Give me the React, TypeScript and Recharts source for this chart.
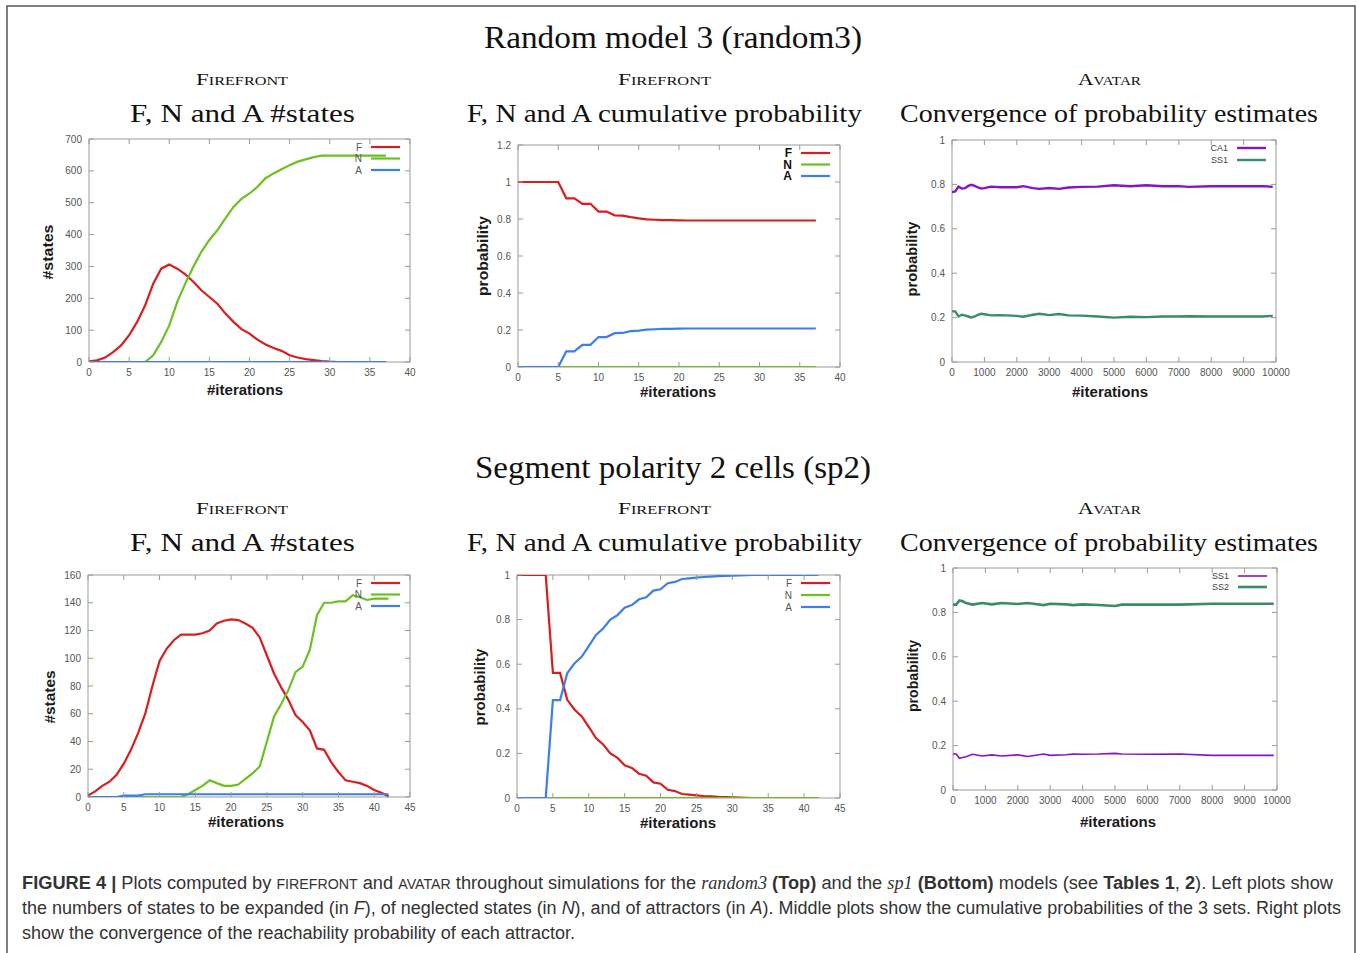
import React from 'react';
import { LineChart, Line, XAxis, YAxis, Legend, ReferenceArea } from 'recharts';

// ---------- Panel 1: random3, FIREFRONT #states ----------
const p1Iter = [0,1,2,3,4,5,6,7,8,9,10,11,12,13,14,15,16,17,18,19,20,21,22,23,24,25,26,27,28,29,30,31,32,33,34,35,36,37];
const p1F = [2,5,14,31,52,84,126,178,246,293,306,293,275,252,225,204,183,152,126,103,89,70,55,44,35,21,14,9,6,3,1,0,0,0,0,0,0,0];
const p1N = [0,0,0,0,0,0,0,0,21,63,115,189,246,299,346,383,414,451,487,512,529,550,577,592,605,618,629,636,643,648,648,648,648,648,648,648,648,648];
const p1A = [0,0,0,0,0,0,0,0,0,0,0,0,0,0,0,0,0,0,0,0,0,0,0,0,0,0,0,0,0,0,0,0,0,0,0,0,0,0];

// ---------- Panel 2: random3, FIREFRONT cumulative probability ----------
const p2Iter = [0,1,2,3,4,5,6,7,8,9,10,11,12,13,14,15,16,17,18,19,20,21,22,23,24,25,26,27,28,29,30,31,32,33,34,35,36,37];
const p2F = [1,1,1,1,1,1,0.912,0.912,0.882,0.882,0.84,0.84,0.82,0.818,0.81,0.803,0.798,0.796,0.794,0.794,0.793,0.792,0.792,0.792,0.792,0.792,0.792,0.792,0.792,0.792,0.792,0.792,0.792,0.792,0.792,0.792,0.792,0.792];
const p2N = [0,0,0,0,0,0,0,0,0,0,0,0,0,0,0,0,0,0,0,0,0,0,0,0,0,0,0,0,0,0,0,0,0,0,0,0,0,0];
const p2A = [0,0,0,0,0,0,0.085,0.085,0.12,0.12,0.162,0.162,0.183,0.184,0.194,0.197,0.202,0.204,0.206,0.206,0.207,0.208,0.208,0.208,0.208,0.208,0.208,0.208,0.208,0.208,0.208,0.208,0.208,0.208,0.208,0.208,0.208,0.208];

// ---------- Panel 3: random3, AVATAR convergence ----------
const p3Iter = [0,100,200,300,400,500,600,700,800,900,1000,1200,1500,2000,2200,2500,2700,3000,3300,3600,4000,4500,5000,5500,6000,6500,7000,7300,8000,9000,9600,9900];
const p3CA1 = [0.765,0.768,0.79,0.781,0.783,0.793,0.798,0.793,0.786,0.781,0.783,0.79,0.787,0.787,0.792,0.783,0.78,0.784,0.78,0.786,0.789,0.79,0.796,0.792,0.796,0.792,0.792,0.789,0.792,0.792,0.792,0.789];
const p3SS1 = [0.228,0.228,0.205,0.213,0.21,0.205,0.2,0.205,0.212,0.217,0.215,0.21,0.211,0.208,0.204,0.213,0.217,0.211,0.216,0.21,0.209,0.205,0.2,0.204,0.202,0.205,0.205,0.206,0.205,0.205,0.205,0.208];

// ---------- Panel 4: sp2, FIREFRONT #states ----------
const p4Iter = [0,1,2,3,4,5,6,7,8,9,10,11,12,13,14,15,16,17,18,19,20,21,22,23,24,25,26,27,28,29,30,31,32,33,34,35,36,37,38,39,40,41,42];
const p4F = [1,4,8,11,16,24,34,46,60,80,98,107,113,117,117,117,118,120,125,127,128,127.5,125,122,115,102,89,79,70,59,54,48,35,34,25,18,12,11,10,8,5,3,0.5];
const p4N = [0,0,0,0,0,0,0,0,0,0,0,0,0,0,2,5,8,12,10,8,8,9,13,17,22,40,58,67,77,90,94,106,131,140,140,141,141,145.5,144,142,143,143,143];
const p4A = [0,0,0,0,0,1,1,1,2,2,2,2,2,2,2,2,2,2,2,2,2,2,2,2,2,2,2,2,2,2,2,2,2,2,2,2,2,2,2,2,2,2,2];

// ---------- Panel 5: sp2, FIREFRONT cumulative probability ----------
const p5Iter = [0,1,2,3,4,5,6,7,8,9,10,11,12,13,14,15,16,17,18,19,20,21,22,23,24,25,26,27,28,29,30,31,32,33,34,35,36,37,38,39,40,41,42];
const p5F = [1,1,1,1,1,0.561,0.561,0.44,0.397,0.367,0.319,0.269,0.24,0.2,0.18,0.147,0.135,0.109,0.1,0.07,0.064,0.037,0.031,0.018,0.015,0.012,0.009,0.007,0.005,0.004,0.003,0.002,0.001,0,0,0,0,0,0,0,0,0,0];
const p5N = [0,0,0,0,0,0,0,0,0,0,0,0,0,0,0,0,0,0,0,0,0,0,0,0,0,0,0,0,0,0,0,0,0,0,0,0,0,0,0,0,0,0,0];
const p5A = [0,0,0,0,0,0.439,0.439,0.56,0.603,0.633,0.681,0.731,0.76,0.8,0.82,0.853,0.865,0.891,0.9,0.93,0.936,0.963,0.969,0.982,0.985,0.988,0.991,0.993,0.995,0.996,0.997,0.998,0.999,1,1,1,1,1,1,1,1,1,1];

// ---------- Panel 6: sp2, AVATAR convergence ----------
const p6Iter = [0,100,200,300,400,600,900,1200,1500,2000,2300,2800,3000,3500,3700,4000,4500,5000,5200,6000,7000,8000,9000,9900];
const p6SS1 = [0.162,0.162,0.143,0.146,0.15,0.161,0.153,0.158,0.153,0.158,0.151,0.162,0.156,0.159,0.162,0.161,0.162,0.165,0.162,0.161,0.162,0.156,0.156,0.156];
const p6SS2 = [0.835,0.835,0.854,0.85,0.842,0.835,0.842,0.836,0.842,0.838,0.842,0.833,0.839,0.836,0.833,0.836,0.833,0.829,0.835,0.835,0.835,0.839,0.839,0.839];

// ---------- ticks ----------
const ticks0to40 = [0,5,10,15,20,25,30,35,40];
const ticks0to45 = [0,5,10,15,20,25,30,35,40,45];
const ticks0to10000 = [0,1000,2000,3000,4000,5000,6000,7000,8000,9000,10000];
const ticksStates700 = [0,100,200,300,400,500,600,700];
const ticksStates160 = [0,20,40,60,80,100,120,140,160];
const ticksProb12 = [0,0.2,0.4,0.6,0.8,1,1.2];
const ticksProb1 = [0,0.2,0.4,0.6,0.8,1];

const RED = '#d81e1e';
const GREEN = '#6cc024';
const BLUE = '#3d7ee8';
const PURPLE = '#8314c8';
const SEAGREEN = '#3a8c66';
const AXIS = '#9a9a9a';

const SERIF = "'Liberation Serif', 'DejaVu Serif', serif";
const SANS = "'Liberation Sans', Arial, sans-serif";

type Series = { key: string; name: string; values: number[]; color: string; width: number };

type PanelProps = {
  px: number; py: number; pw: number; ph: number;
  iter: number[]; series: Series[];
  xDomain: [number, number]; xTicks: number[];
  yDomain: [number, number]; yTicks: number[];
  legendFont: { size: number; weight: string; color: string };
  legendRow: number;
};

const ML = 50, MT = 12, MR = 22, MB = 30;

function Panel(props: PanelProps) {
  const { px, py, pw, ph, iter, series, xDomain, xTicks, yDomain, yTicks, legendFont, legendRow } = props;
  const data = iter.map((x, i) => {
    const o: Record<string, number> = { x };
    series.forEach((s) => { o[s.key] = s.values[i]; });
    return o;
  });
  const plotB = MT + ph;
  const plotR = ML + pw;
  const XTick = (tp: any) => (
    <g>
      <line x1={tp.x} x2={tp.x} y1={plotB} y2={plotB - 5} stroke={AXIS} />
      <line x1={tp.x} x2={tp.x} y1={MT} y2={MT + 5} stroke={AXIS} />
      <text x={tp.x} y={plotB + 14} textAnchor="middle" fill="#555" fontSize={10} fontFamily={SANS}>
        {String(tp.payload.value)}
      </text>
    </g>
  );
  const YTick = (tp: any) => (
    <g>
      <line x1={ML} x2={ML + 5} y1={tp.y} y2={tp.y} stroke={AXIS} />
      <line x1={plotR} x2={plotR - 5} y1={tp.y} y2={tp.y} stroke={AXIS} />
      <text x={ML - 7} y={tp.y + 3.5} textAnchor="end" fill="#555" fontSize={10} fontFamily={SANS}>
        {String(tp.payload.value)}
      </text>
    </g>
  );
  const LW = 110;
  const renderLegend = (lp: any) => {
    const payload = (lp.payload || []) as any[];
    return (
      <svg width={LW} height={50} style={{ overflow: 'visible', display: 'block' }}>
        {series.map((s, i) => {
          const p = payload.find((q) => q.dataKey === s.key);
          const y = 8 + i * legendRow;
          return (
            <g key={s.key}>
              <text x={LW - 48} y={y} textAnchor="end" dominantBaseline="central"
                fontFamily={SANS} fontSize={legendFont.size} fontWeight={legendFont.weight} fill={legendFont.color}>
                {p ? p.value : s.name}
              </text>
              <line x1={LW - 39} x2={LW - 10} y1={y} y2={y} stroke={p ? p.color : s.color} strokeWidth={s.width} />
            </g>
          );
        })}
      </svg>
    );
  };
  return (
    <div style={{ position: 'absolute', left: px - ML, top: py - MT }}>
      <LineChart width={pw + ML + MR} height={ph + MT + MB} data={data}
        margin={{ top: MT, right: MR, bottom: 0, left: 0 }}>
        <XAxis dataKey="x" type="number" domain={xDomain} ticks={xTicks} interval={0} height={MB}
          tickSize={0} tickLine={false} axisLine={false} tick={XTick} allowDataOverflow />
        <YAxis type="number" domain={yDomain} ticks={yTicks} interval={0} width={ML}
          tickSize={0} tickLine={false} axisLine={false} tick={YTick} allowDataOverflow />
        <ReferenceArea x1={xDomain[0]} x2={xDomain[1]} y1={yDomain[0]} y2={yDomain[1]}
          fill="none" fillOpacity={0} stroke={AXIS} strokeWidth={1} ifOverflow="visible" />
        <Legend layout="vertical" align="center" verticalAlign="middle" content={renderLegend}
          wrapperStyle={{ left: ML + pw - LW, top: MT, width: LW, height: 50 }} />
        {series.map((s) => (
          <Line key={s.key} dataKey={s.key} name={s.name} type="linear" stroke={s.color}
            strokeWidth={s.width} dot={false} activeDot={false} isAnimationActive={false} />
        ))}
      </LineChart>
    </div>
  );
}

function Caption() {
  const bold = { fontWeight: 700 } as const;
  const sc = { fontSize: 14 } as const;
  const it = { fontFamily: SERIF, fontStyle: 'italic' } as const;
  const itSans = { fontStyle: 'italic' } as const;
  return (
    <g fontFamily={SANS} fontSize={18} fill="#333">
      <text x={22} y={889} textLength={1311} lengthAdjust="spacingAndGlyphs">
        <tspan style={bold}>FIGURE 4 |</tspan> Plots computed by <tspan style={sc}>FIREFRONT</tspan> and{' '}
        <tspan style={sc}>AVATAR</tspan> throughout simulations for the <tspan style={it}>random3</tspan>{' '}
        <tspan style={bold}>(Top)</tspan> and the <tspan style={it}>sp1</tspan> <tspan style={bold}>(Bottom)</tspan>{' '}
        models (see <tspan style={bold}>Tables 1</tspan>, <tspan style={bold}>2</tspan>). Left plots show
      </text>
      <text x={22} y={914} textLength={1319} lengthAdjust="spacingAndGlyphs">
        the numbers of states to be expanded (in <tspan style={itSans}>F</tspan>), of neglected states (in{' '}
        <tspan style={itSans}>N</tspan>), and of attractors (in <tspan style={itSans}>A</tspan>). Middle plots show the
        cumulative probabilities of the 3 sets. Right plots
      </text>
      <text x={22} y={939} textLength={553} lengthAdjust="spacingAndGlyphs">
        show the convergence of the reachability probability of each attractor.
      </text>
    </g>
  );
}

function T(p: { x: number; y: number; w: number; size: number; children: any; sc?: boolean }) {
  return (
    <text x={p.x} y={p.y} textLength={p.w} lengthAdjust="spacingAndGlyphs" fontFamily={SERIF}
      fontSize={p.size} fill="#111" style={p.sc ? { fontVariant: 'small-caps' } : undefined}>
      {p.children}
    </text>
  );
}

function XLab({ cx, cy }: { cx: number; cy: number }) {
  return (
    <text x={cx} y={cy + 5} textAnchor="middle" textLength={76} lengthAdjust="spacingAndGlyphs"
      fontFamily={SANS} fontWeight={700} fontSize={15} fill="#1a1a1a">#iterations</text>
  );
}
function YLab({ cx, cy, w, label }: { cx: number; cy: number; w: number; label: string }) {
  return (
    <text x={0} y={0} transform={`translate(${cx + 5},${cy}) rotate(-90)`} textAnchor="middle"
      textLength={w} lengthAdjust="spacingAndGlyphs" fontFamily={SANS} fontWeight={700} fontSize={15} fill="#1a1a1a">
      {label}
    </text>
  );
}

export default function App() {
  const legSmall = { size: 10, weight: '400', color: '#555' };
  const legBold = { size: 12, weight: '700', color: '#111' };
  const legTiny = { size: 9, weight: '400', color: '#444' };
  return (
    <div style={{ position: 'absolute', left: 0, top: 0, width: 1357, height: 953, background: '#fff', overflow: 'hidden' }}>
      <Panel px={89} py={139} pw={321} ph={223} iter={p1Iter}
        series={[
          { key: 'F', name: 'F', values: p1F, color: RED, width: 2.2 },
          { key: 'N', name: 'N', values: p1N, color: GREEN, width: 2.2 },
          { key: 'A', name: 'A', values: p1A, color: BLUE, width: 2.2 },
        ]}
        xDomain={[0, 40]} xTicks={ticks0to40} yDomain={[0, 700]} yTicks={ticksStates700}
        legendFont={legSmall} legendRow={11.5} />
      <Panel px={518} py={145} pw={322} ph={222} iter={p2Iter}
        series={[
          { key: 'F', name: 'F', values: p2F, color: RED, width: 2.2 },
          { key: 'N', name: 'N', values: p2N, color: GREEN, width: 2.2 },
          { key: 'A', name: 'A', values: p2A, color: BLUE, width: 2.2 },
        ]}
        xDomain={[0, 40]} xTicks={ticks0to40} yDomain={[0, 1.2]} yTicks={ticksProb12}
        legendFont={legBold} legendRow={11.5} />
      <Panel px={952} py={140} pw={324} ph={222} iter={p3Iter}
        series={[
          { key: 'CA1', name: 'CA1', values: p3CA1, color: PURPLE, width: 2.4 },
          { key: 'SS1', name: 'SS1', values: p3SS1, color: SEAGREEN, width: 2.4 },
        ]}
        xDomain={[0, 10000]} xTicks={ticks0to10000} yDomain={[0, 1]} yTicks={ticksProb1}
        legendFont={legTiny} legendRow={12} />
      <Panel px={88} py={575} pw={322} ph={222} iter={p4Iter}
        series={[
          { key: 'F', name: 'F', values: p4F, color: RED, width: 2.2 },
          { key: 'N', name: 'N', values: p4N, color: GREEN, width: 2.2 },
          { key: 'A', name: 'A', values: p4A, color: BLUE, width: 2.2 },
        ]}
        xDomain={[0, 45]} xTicks={ticks0to45} yDomain={[0, 160]} yTicks={ticksStates160}
        legendFont={legSmall} legendRow={11.5} />
      <Panel px={517} py={575} pw={323} ph={223} iter={p5Iter}
        series={[
          { key: 'F', name: 'F', values: p5F, color: RED, width: 2.2 },
          { key: 'N', name: 'N', values: p5N, color: GREEN, width: 2.2 },
          { key: 'A', name: 'A', values: p5A, color: BLUE, width: 2.2 },
        ]}
        xDomain={[0, 45]} xTicks={ticks0to45} yDomain={[0, 1]} yTicks={ticksProb1}
        legendFont={legSmall} legendRow={12} />
      <Panel px={953} py={568} pw={324} ph={222} iter={p6Iter}
        series={[
          { key: 'SS1', name: 'SS1', values: p6SS1, color: PURPLE, width: 1.6 },
          { key: 'SS2', name: 'SS2', values: p6SS2, color: SEAGREEN, width: 2.6 },
        ]}
        xDomain={[0, 10000]} xTicks={ticks0to10000} yDomain={[0, 1]} yTicks={ticksProb1}
        legendFont={legTiny} legendRow={11} />

      <svg width={1357} height={953} style={{ position: 'absolute', left: 0, top: 0, pointerEvents: 'none' }}>
        <rect x={7} y={6} width={1348} height={1000} fill="none" stroke="#555" strokeWidth={1.5} />
        <T x={484} y={48} w={378} size={32}>Random model 3 (random3)</T>
        <T x={196} y={85} w={92} size={17} sc>Firefront</T>
        <T x={618} y={85} w={93} size={17} sc>Firefront</T>
        <T x={1078} y={85} w={63} size={17} sc>Avatar</T>
        <T x={130} y={122} w={225} size={26}>F, N and A #states</T>
        <T x={467} y={122} w={395} size={26}>F, N and A cumulative probability</T>
        <T x={900} y={122} w={418} size={26}>Convergence of probability estimates</T>

        <T x={475} y={478} w={396} size={32}>Segment polarity 2 cells (sp2)</T>
        <T x={196} y={514} w={92} size={17} sc>Firefront</T>
        <T x={618} y={514} w={93} size={17} sc>Firefront</T>
        <T x={1078} y={514} w={63} size={17} sc>Avatar</T>
        <T x={130} y={551} w={225} size={26}>F, N and A #states</T>
        <T x={467} y={551} w={395} size={26}>F, N and A cumulative probability</T>
        <T x={900} y={551} w={418} size={26}>Convergence of probability estimates</T>

        <XLab cx={245} cy={390} />
        <XLab cx={678} cy={392} />
        <XLab cx={1110} cy={392} />
        <XLab cx={246} cy={822} />
        <XLab cx={678} cy={823} />
        <XLab cx={1118} cy={822} />
        <YLab cx={48} cy={252} w={55} label="#states" />
        <YLab cx={483} cy={256} w={80} label="probability" />
        <YLab cx={912} cy={259} w={75} label="probability" />
        <YLab cx={50} cy={697} w={53} label="#states" />
        <YLab cx={480} cy={687} w={77} label="probability" />
        <YLab cx={913} cy={676} w={72} label="probability" />

        <Caption />
      </svg>
    </div>
  );
}
